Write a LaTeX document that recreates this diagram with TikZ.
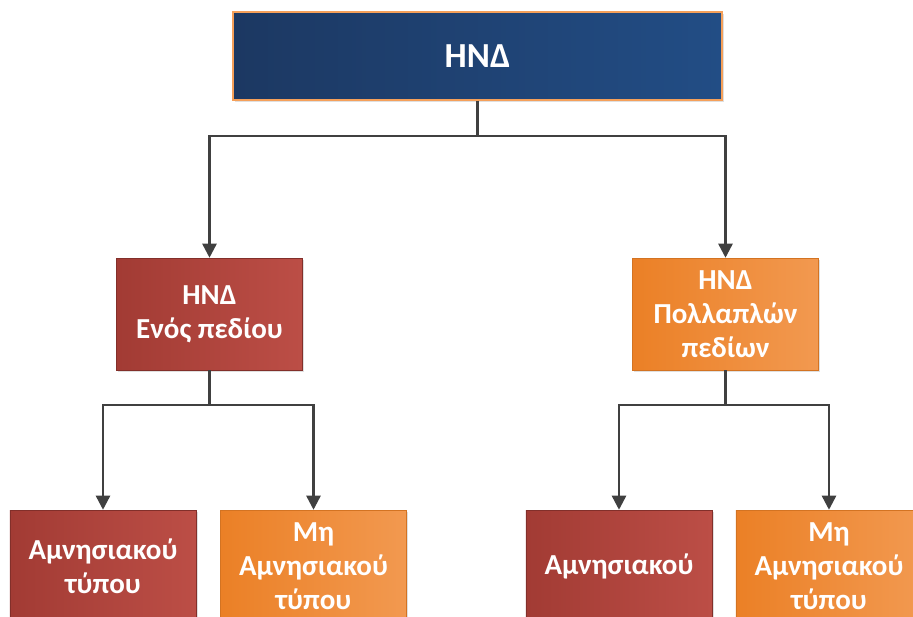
\documentclass[tikz,border=0pt]{standalone}
\usepackage{fontspec}
\setmainfont{Carlito}
\usetikzlibrary{arrows.meta,shadows}
\usepackage{xcolor}
\definecolor{NavyDark}{HTML}{1C3862}
\definecolor{NavyLight}{HTML}{224D85}
\definecolor{RedDark}{HTML}{A23B34}
\definecolor{RedLight}{HTML}{BC4E46}
\definecolor{OrangeDark}{HTML}{EB8026}
\definecolor{OrangeLight}{HTML}{F29950}
\definecolor{EdgeOrange}{HTML}{F5A05A}
\definecolor{LineGray}{HTML}{404040}

\begin{document}
\begin{tikzpicture}[x=0.02cm, y=-0.02cm,
      cbox/.style={minimum width=3.73cm, minimum height=2.24cm, inner sep=0pt,
                   align=center, text=white, font=\fontsize{16.5}{19.5}\selectfont\bfseries,
                   drop shadow={opacity=0.25, shadow xshift=1pt, shadow yshift=-1pt}},
      redbox/.style={cbox, left color=RedDark, right color=RedLight, draw=RedDark!80!black, line width=0.3pt},
      orangebox/.style={cbox, left color=OrangeDark, right color=OrangeLight, draw=OrangeDark!90!black, line width=0.3pt},
      conn/.style={draw=LineGray, line width=1.4pt, -{Triangle[length=8pt,width=8pt]}}
    ]
      \clip (0,0) rectangle (913,616);

      \node[minimum width=9.78cm, minimum height=1.76cm, inner sep=0pt,
            left color=NavyDark, right color=NavyLight, draw=EdgeOrange, line width=0.8pt,
            text=white, font=\fontsize{20}{24}\selectfont\bfseries,
            drop shadow={opacity=0.25, shadow xshift=1pt, shadow yshift=-1pt}]
            (hnd) at (477.5,56) {ΗΝΔ};

      \node[redbox]    (single) at (209.5,314) {ΗΝΔ\\Ενός πεδίου};
      \node[orangebox] (multi)  at (725.5,314) {ΗΝΔ\\Πολλαπλών\\πεδίων};

      \node[redbox]    (singleAm)  at (103,566)   {Αμνησιακού\\τύπου};
      \node[orangebox] (singleNon) at (313.5,566) {Μη\\Αμνησιακού\\τύπου};
      \node[redbox]    (multiAm)   at (619,566)   {Αμνησιακού};
      \node[orangebox] (multiNon)  at (829,566)   {Μη\\Αμνησιακού\\τύπου};

      % top level
      \coordinate (j0) at (hnd.south |- 0,136);
      \draw[conn] (hnd.south) -- (j0) -| (single.north);
      \draw[conn] (j0) -| (multi.north);

      % second level
      \coordinate (j1) at (single.south |- 0,405);
      \draw[conn] (single.south) -- (j1) -| (singleAm.north);
      \draw[conn] (j1) -| (singleNon.north);

      \coordinate (j2) at (multi.south |- 0,405);
      \draw[conn] (multi.south) -- (j2) -| (multiAm.north);
      \draw[conn] (j2) -| (multiNon.north);
    \end{tikzpicture}
\end{document}
